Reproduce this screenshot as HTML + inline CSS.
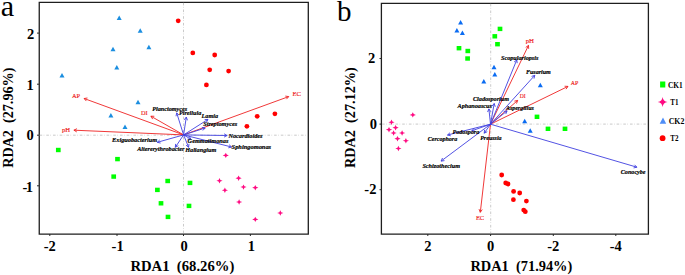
<!DOCTYPE html>
<html><head><meta charset="utf-8"><style>
html,body{margin:0;padding:0;background:#fff;width:685px;height:275px;overflow:hidden}
svg{display:block}
.b{font-family:"Liberation Serif",serif;font-weight:bold}
.bi{font-family:"Liberation Serif",serif;font-weight:bold;font-style:italic}
.r{font-family:"Liberation Serif",serif}
</style></head><body>
<svg width="685" height="275" viewBox="0 0 685 275">
<path d="M39.25,2.3 H308.3 V234.2 H39.25 Z" fill="none" stroke="#1e1e1e" stroke-width="1.3" stroke-linejoin="miter"/>
<path d="M381.4,3.4 H648.4 V234.2 H381.4 Z" fill="none" stroke="#1e1e1e" stroke-width="1.3" stroke-linejoin="miter"/>
<line x1="39.6" y1="135.2" x2="307.4" y2="135.2" stroke="#bdbdbd" stroke-width="0.8" stroke-dasharray="2.6 1.5 0.6 2"/>
<line x1="183.5" y1="2.8" x2="183.5" y2="233.4" stroke="#bdbdbd" stroke-width="0.8" stroke-dasharray="2.6 1.5 0.6 2"/>
<line x1="382.1" y1="124.1" x2="648" y2="124.1" stroke="#bdbdbd" stroke-width="0.8" stroke-dasharray="2.6 1.5 0.6 2"/>
<line x1="490.7" y1="3.8" x2="490.7" y2="233.4" stroke="#bdbdbd" stroke-width="0.8" stroke-dasharray="2.6 1.5 0.6 2"/>
<line x1="37" y1="33.1" x2="39" y2="33.1" stroke="#2a2a2a" stroke-width="1"/>
<line x1="37" y1="84.2" x2="39" y2="84.2" stroke="#2a2a2a" stroke-width="1"/>
<line x1="37" y1="135.2" x2="39" y2="135.2" stroke="#2a2a2a" stroke-width="1"/>
<line x1="37" y1="185.8" x2="39" y2="185.8" stroke="#2a2a2a" stroke-width="1"/>
<line x1="49.8" y1="234" x2="49.8" y2="236" stroke="#2a2a2a" stroke-width="1"/>
<line x1="117.0" y1="234" x2="117.0" y2="236" stroke="#2a2a2a" stroke-width="1"/>
<line x1="183.5" y1="234" x2="183.5" y2="236" stroke="#2a2a2a" stroke-width="1"/>
<line x1="250.4" y1="234" x2="250.4" y2="236" stroke="#2a2a2a" stroke-width="1"/>
<line x1="379.5" y1="58.5" x2="381.5" y2="58.5" stroke="#2a2a2a" stroke-width="1"/>
<line x1="379.5" y1="124.1" x2="381.5" y2="124.1" stroke="#2a2a2a" stroke-width="1"/>
<line x1="379.5" y1="189.7" x2="381.5" y2="189.7" stroke="#2a2a2a" stroke-width="1"/>
<line x1="427.8" y1="234" x2="427.8" y2="236" stroke="#2a2a2a" stroke-width="1"/>
<line x1="490.6" y1="234" x2="490.6" y2="236" stroke="#2a2a2a" stroke-width="1"/>
<line x1="553.3" y1="234" x2="553.3" y2="236" stroke="#2a2a2a" stroke-width="1"/>
<line x1="615.8" y1="234" x2="615.8" y2="236" stroke="#2a2a2a" stroke-width="1"/>
<text x="34.3" y="39.3" text-anchor="end" class="b" font-size="14.5">2</text>
<text x="33.8" y="89.9" text-anchor="end" class="b" font-size="14.5">1</text>
<text x="33.8" y="140" text-anchor="end" class="b" font-size="14.5">0</text>
<text x="22.6" y="191.9" textLength="10.4" lengthAdjust="spacing" class="b" font-size="14.5">-1</text>
<text x="49.8" y="250.8" text-anchor="middle" class="b" font-size="14.5">-2</text>
<text x="117.6" y="250.8" text-anchor="middle" class="b" font-size="14.5">-1</text>
<text x="184.1" y="250.8" text-anchor="middle" class="b" font-size="14.5">0</text>
<text x="251.4" y="250.8" text-anchor="middle" class="b" font-size="14.5">1</text>
<text x="375.2" y="62.7" text-anchor="end" class="b" font-size="14.5">2</text>
<text x="377.1" y="128.8" text-anchor="end" class="b" font-size="14.5">0</text>
<text x="376.4" y="193.6" text-anchor="end" class="b" font-size="14.5">-2</text>
<text x="427.8" y="250.8" text-anchor="middle" class="b" font-size="14.5">2</text>
<text x="490.6" y="250.8" text-anchor="middle" class="b" font-size="14.5">0</text>
<text x="553.3" y="250.8" text-anchor="middle" class="b" font-size="14.5">-2</text>
<text x="615.8" y="250.8" text-anchor="middle" class="b" font-size="14.5">-4</text>
<text x="130.4" y="271.4" textLength="103.9" lengthAdjust="spacingAndGlyphs" class="b" font-size="14">RDA1&#160;&#160;(68.26%)</text>
<text x="470.4" y="271.4" textLength="101.9" lengthAdjust="spacingAndGlyphs" class="b" font-size="14">RDA1&#160;&#160;(71.94%)</text>
<text transform="translate(13.4,167.8) rotate(-90)" x="0" y="0" textLength="100.2" lengthAdjust="spacingAndGlyphs" class="b" font-size="14">RDA2&#160;&#160;(27.96%)</text>
<text transform="translate(354.7,168) rotate(-90)" x="0" y="0" textLength="100.8" lengthAdjust="spacingAndGlyphs" class="b" font-size="14">RDA2&#160;&#160;(27.12%)</text>
<text x="0.8" y="16.4" class="r" font-size="30.2">a</text>
<text x="336.9" y="21.4" class="r" font-size="29">b</text>
<path d="M119.2,15.5 L121.7,20.0 L116.7,20.0Z" fill="#1b8ee0"/>
<path d="M140.2,28.3 L142.7,32.8 L137.7,32.8Z" fill="#1b8ee0"/>
<path d="M113.0,46.7 L115.5,51.2 L110.5,51.2Z" fill="#1b8ee0"/>
<path d="M148.9,44.8 L151.4,49.3 L146.4,49.3Z" fill="#1b8ee0"/>
<path d="M116.8,65.0 L119.3,69.5 L114.3,69.5Z" fill="#1b8ee0"/>
<path d="M62.0,72.9 L64.5,77.4 L59.5,77.4Z" fill="#1b8ee0"/>
<path d="M138.0,99.8 L140.5,104.3 L135.5,104.3Z" fill="#1b8ee0"/>
<path d="M110.9,113.0 L113.4,117.5 L108.4,117.5Z" fill="#1b8ee0"/>
<path d="M125.0,124.5 L127.5,129.0 L122.5,129.0Z" fill="#1b8ee0"/>
<circle cx="178.2" cy="20.8" r="2.4" fill="#ff0000"/>
<circle cx="192.8" cy="52.9" r="2.4" fill="#ff0000"/>
<circle cx="214.7" cy="55" r="2.4" fill="#ff0000"/>
<circle cx="209.7" cy="69.8" r="2.4" fill="#ff0000"/>
<circle cx="228.6" cy="71.1" r="2.4" fill="#ff0000"/>
<circle cx="206.4" cy="84.9" r="2.4" fill="#ff0000"/>
<circle cx="257.2" cy="116.3" r="2.4" fill="#ff0000"/>
<circle cx="274.9" cy="113.8" r="2.4" fill="#ff0000"/>
<circle cx="246.9" cy="126.3" r="2.4" fill="#ff0000"/>
<rect x="55.95" y="147.80" width="4.7" height="4.4" fill="#00ff00"/>
<rect x="115.15" y="156.90" width="4.7" height="4.4" fill="#00ff00"/>
<rect x="111.35" y="174.40" width="4.7" height="4.4" fill="#00ff00"/>
<rect x="165.35" y="178.80" width="4.7" height="4.4" fill="#00ff00"/>
<rect x="155.05" y="187.70" width="4.7" height="4.4" fill="#00ff00"/>
<rect x="187.65" y="180.70" width="4.7" height="4.4" fill="#00ff00"/>
<rect x="158.65" y="201.10" width="4.7" height="4.4" fill="#00ff00"/>
<rect x="186.65" y="203.70" width="4.7" height="4.4" fill="#00ff00"/>
<rect x="165.65" y="214.70" width="4.7" height="4.4" fill="#00ff00"/>
<path d="M225.8,152.70000000000002 Q226.10000000000002,155.1 228.9,155.4 Q226.10000000000002,155.70000000000002 225.8,158.1 Q225.5,155.70000000000002 222.70000000000002,155.4 Q225.5,155.1 225.8,152.70000000000002Z" fill="#ff0a82"/>
<path d="M219.5,178.10000000000002 Q219.8,180.5 222.6,180.8 Q219.8,181.10000000000002 219.5,183.5 Q219.2,181.10000000000002 216.4,180.8 Q219.2,180.5 219.5,178.10000000000002Z" fill="#ff0a82"/>
<path d="M238.6,175.5 Q238.9,177.89999999999998 241.7,178.2 Q238.9,178.5 238.6,180.89999999999998 Q238.29999999999998,178.5 235.5,178.2 Q238.29999999999998,177.89999999999998 238.6,175.5Z" fill="#ff0a82"/>
<path d="M224.9,187.60000000000002 Q225.20000000000002,190.0 228.0,190.3 Q225.20000000000002,190.60000000000002 224.9,193.0 Q224.6,190.60000000000002 221.8,190.3 Q224.6,190.0 224.9,187.60000000000002Z" fill="#ff0a82"/>
<path d="M243.5,184.4 Q243.8,186.79999999999998 246.6,187.1 Q243.8,187.4 243.5,189.79999999999998 Q243.2,187.4 240.4,187.1 Q243.2,186.79999999999998 243.5,184.4Z" fill="#ff0a82"/>
<path d="M255.3,185.0 Q255.60000000000002,187.39999999999998 258.40000000000003,187.7 Q255.60000000000002,188.0 255.3,190.39999999999998 Q255.0,188.0 252.20000000000002,187.7 Q255.0,187.39999999999998 255.3,185.0Z" fill="#ff0a82"/>
<path d="M239.1,199.3 Q239.4,201.7 242.2,202 Q239.4,202.3 239.1,204.7 Q238.79999999999998,202.3 236.0,202 Q238.79999999999998,201.7 239.1,199.3Z" fill="#ff0a82"/>
<path d="M280.3,210.3 Q280.6,212.7 283.40000000000003,213 Q280.6,213.3 280.3,215.7 Q280.0,213.3 277.2,213 Q280.0,212.7 280.3,210.3Z" fill="#ff0a82"/>
<path d="M255.3,216.70000000000002 Q255.60000000000002,219.1 258.40000000000003,219.4 Q255.60000000000002,219.70000000000002 255.3,222.1 Q255.0,219.70000000000002 252.20000000000002,219.4 Q255.0,219.1 255.3,216.70000000000002Z" fill="#ff0a82"/>
<line x1="183.6" y1="134.9" x2="84.1" y2="98.5" stroke="#ee2222" stroke-width="0.9"/>
<path d="M87.46,97.99 L84.1,98.5 L86.34,101.06" stroke="#ee2222" stroke-width="0.9" fill="none"/>
<line x1="183.6" y1="134.9" x2="73.9" y2="130.2" stroke="#ee2222" stroke-width="0.9"/>
<path d="M76.95,128.70 L73.9,130.2 L76.81,131.96" stroke="#ee2222" stroke-width="0.9" fill="none"/>
<line x1="183.6" y1="134.9" x2="150.9" y2="116.2" stroke="#ee2222" stroke-width="0.9"/>
<path d="M154.30,116.27 L150.9,116.2 L152.68,119.10" stroke="#ee2222" stroke-width="0.9" fill="none"/>
<line x1="183.6" y1="134.9" x2="288.7" y2="96.6" stroke="#ee2222" stroke-width="0.9"/>
<path d="M286.45,99.15 L288.7,96.6 L285.34,96.09" stroke="#ee2222" stroke-width="0.9" fill="none"/>
<line x1="183.6" y1="134.9" x2="176.7" y2="112.9" stroke="#4040e0" stroke-width="0.9"/>
<path d="M179.15,115.26 L176.7,112.9 L176.04,116.23" stroke="#4040e0" stroke-width="0.9" fill="none"/>
<line x1="183.6" y1="134.9" x2="186.3" y2="117.1" stroke="#4040e0" stroke-width="0.9"/>
<path d="M187.46,120.29 L186.3,117.1 L184.24,119.81" stroke="#4040e0" stroke-width="0.9" fill="none"/>
<line x1="183.6" y1="134.9" x2="208.0" y2="119.4" stroke="#4040e0" stroke-width="0.9"/>
<path d="M206.36,122.38 L208.0,119.4 L204.61,119.62" stroke="#4040e0" stroke-width="0.9" fill="none"/>
<line x1="183.6" y1="134.9" x2="205.2" y2="128.0" stroke="#4040e0" stroke-width="0.9"/>
<path d="M202.85,130.46 L205.2,128.0 L201.86,127.36" stroke="#4040e0" stroke-width="0.9" fill="none"/>
<line x1="183.6" y1="134.9" x2="227.1" y2="135.5" stroke="#4040e0" stroke-width="0.9"/>
<path d="M224.09,137.09 L227.1,135.5 L224.14,133.83" stroke="#4040e0" stroke-width="0.9" fill="none"/>
<line x1="183.6" y1="134.9" x2="231.6" y2="147.0" stroke="#4040e0" stroke-width="0.9"/>
<path d="M228.31,147.85 L231.6,147.0 L229.11,144.69" stroke="#4040e0" stroke-width="0.9" fill="none"/>
<line x1="183.6" y1="134.9" x2="190.9" y2="139.2" stroke="#4040e0" stroke-width="0.9"/>
<path d="M187.50,139.09 L190.9,139.2 L189.16,136.28" stroke="#4040e0" stroke-width="0.9" fill="none"/>
<line x1="183.6" y1="134.9" x2="188.6" y2="147.3" stroke="#4040e0" stroke-width="0.9"/>
<path d="M185.97,145.14 L188.6,147.3 L189.00,143.92" stroke="#4040e0" stroke-width="0.9" fill="none"/>
<line x1="183.6" y1="134.9" x2="175.3" y2="147.3" stroke="#4040e0" stroke-width="0.9"/>
<path d="M175.61,143.91 L175.3,147.3 L178.31,145.73" stroke="#4040e0" stroke-width="0.9" fill="none"/>
<line x1="183.6" y1="134.9" x2="157.3" y2="142.3" stroke="#4040e0" stroke-width="0.9"/>
<path d="M159.73,139.92 L157.3,142.3 L160.61,143.06" stroke="#4040e0" stroke-width="0.9" fill="none"/>
<text x="152.3" y="110.6" textLength="34.8" lengthAdjust="spacingAndGlyphs" class="bi" font-size="6.6" fill="#000" stroke="#000" stroke-width="0.18">Planctomyces</text>
<text x="179.0" y="115.4" textLength="22.2" lengthAdjust="spacingAndGlyphs" class="bi" font-size="6.6" fill="#000" stroke="#000" stroke-width="0.18">Pirellula</text>
<text x="201.6" y="118.4" textLength="16.4" lengthAdjust="spacingAndGlyphs" class="bi" font-size="6.6" fill="#000" stroke="#000" stroke-width="0.18">Lamia</text>
<text x="203.2" y="126.4" textLength="34.0" lengthAdjust="spacingAndGlyphs" class="bi" font-size="6.6" fill="#000" stroke="#000" stroke-width="0.18">Streptomyces</text>
<text x="228.4" y="137.9" textLength="34.1" lengthAdjust="spacingAndGlyphs" class="bi" font-size="6.6" fill="#000" stroke="#000" stroke-width="0.18">Nocardioides</text>
<text x="231.6" y="149.0" textLength="39.5" lengthAdjust="spacingAndGlyphs" class="bi" font-size="6.6" fill="#000" stroke="#000" stroke-width="0.18">Sphingomonas</text>
<text x="187.6" y="143.1" textLength="40.8" lengthAdjust="spacingAndGlyphs" class="bi" font-size="6.6" fill="#000" stroke="#000" stroke-width="0.18">Gemmatimonas</text>
<text x="185.2" y="152.3" textLength="31.1" lengthAdjust="spacingAndGlyphs" class="bi" font-size="6.6" fill="#000" stroke="#000" stroke-width="0.18">Haliangium</text>
<text x="137.2" y="151.4" textLength="47.2" lengthAdjust="spacingAndGlyphs" class="bi" font-size="6.6" fill="#000" stroke="#000" stroke-width="0.18">Altererythrobacter</text>
<text x="112.1" y="141.8" textLength="45.1" lengthAdjust="spacingAndGlyphs" class="bi" font-size="6.6" fill="#000" stroke="#000" stroke-width="0.18">Exiguobacterium</text>
<text x="71.9" y="97.6" textLength="8.2" lengthAdjust="spacingAndGlyphs" class="r" font-size="7.0" fill="#ee2222" stroke="#ee2222" stroke-width="0.18">AP</text>
<text x="62.0" y="131.9" textLength="8.1" lengthAdjust="spacingAndGlyphs" class="r" font-size="7.0" fill="#ee2222" stroke="#ee2222" stroke-width="0.18">pH</text>
<text x="140.9" y="114.8" textLength="6.6" lengthAdjust="spacingAndGlyphs" class="r" font-size="7.0" fill="#ee2222" stroke="#ee2222" stroke-width="0.18">DI</text>
<text x="292.5" y="95.9" textLength="8.5" lengthAdjust="spacingAndGlyphs" class="r" font-size="7.0" fill="#ee2222" stroke="#ee2222" stroke-width="0.18">EC</text>
<path d="M460.6,20.1 L463.1,24.6 L458.1,24.6Z" fill="#0b6cf2"/>
<path d="M456.9,27.9 L459.4,32.4 L454.4,32.4Z" fill="#0b6cf2"/>
<path d="M462.4,30.6 L464.9,35.1 L459.9,35.1Z" fill="#0b6cf2"/>
<path d="M494.0,64.8 L496.5,69.3 L491.5,69.3Z" fill="#0b6cf2"/>
<path d="M494.8,72.0 L497.3,76.5 L492.3,76.5Z" fill="#0b6cf2"/>
<path d="M483.8,78.9 L486.3,83.4 L481.3,83.4Z" fill="#0b6cf2"/>
<path d="M540.3,82.7 L542.8,87.2 L537.8,87.2Z" fill="#0b6cf2"/>
<path d="M524.7,118.8 L527.2,123.3 L522.2,123.3Z" fill="#0b6cf2"/>
<path d="M530.2,128.2 L532.7,132.7 L527.7,132.7Z" fill="#0b6cf2"/>
<rect x="456.65" y="46.00" width="4.7" height="4.4" fill="#00ff00"/>
<rect x="465.45" y="48.80" width="4.7" height="4.4" fill="#00ff00"/>
<rect x="465.25" y="56.30" width="4.7" height="4.4" fill="#00ff00"/>
<rect x="497.65" y="26.70" width="4.7" height="4.4" fill="#00ff00"/>
<rect x="492.45" y="34.10" width="4.7" height="4.4" fill="#00ff00"/>
<rect x="495.15" y="42.00" width="4.7" height="4.4" fill="#00ff00"/>
<rect x="534.65" y="114.60" width="4.7" height="4.4" fill="#00ff00"/>
<rect x="545.65" y="126.60" width="4.7" height="4.4" fill="#00ff00"/>
<rect x="562.65" y="126.60" width="4.7" height="4.4" fill="#00ff00"/>
<circle cx="501.7" cy="175" r="2.4" fill="#ff0000"/>
<circle cx="505.7" cy="183" r="2.4" fill="#ff0000"/>
<circle cx="508" cy="184" r="2.4" fill="#ff0000"/>
<circle cx="513.6" cy="191.4" r="2.4" fill="#ff0000"/>
<circle cx="519.7" cy="193" r="2.4" fill="#ff0000"/>
<circle cx="513.4" cy="199.7" r="2.4" fill="#ff0000"/>
<circle cx="526.4" cy="201.1" r="2.4" fill="#ff0000"/>
<circle cx="523.7" cy="210.1" r="2.4" fill="#ff0000"/>
<circle cx="525.3" cy="211.7" r="2.4" fill="#ff0000"/>
<path d="M412.8,112.2 Q413.1,114.60000000000001 415.90000000000003,114.9 Q413.1,115.2 412.8,117.60000000000001 Q412.5,115.2 409.7,114.9 Q412.5,114.60000000000001 412.8,112.2Z" fill="#ff0a82"/>
<path d="M391.5,119.6 Q391.8,122.0 394.6,122.3 Q391.8,122.6 391.5,125.0 Q391.2,122.6 388.4,122.3 Q391.2,122.0 391.5,119.6Z" fill="#ff0a82"/>
<path d="M395.6,125.0 Q395.90000000000003,127.4 398.70000000000005,127.7 Q395.90000000000003,128.0 395.6,130.4 Q395.3,128.0 392.5,127.7 Q395.3,127.4 395.6,125.0Z" fill="#ff0a82"/>
<path d="M389,126.99999999999999 Q389.3,129.39999999999998 392.1,129.7 Q389.3,130.0 389,132.39999999999998 Q388.7,130.0 385.9,129.7 Q388.7,129.39999999999998 389,126.99999999999999Z" fill="#ff0a82"/>
<path d="M393.6,130.3 Q393.90000000000003,132.7 396.70000000000005,133 Q393.90000000000003,133.3 393.6,135.7 Q393.3,133.3 390.5,133 Q393.3,132.7 393.6,130.3Z" fill="#ff0a82"/>
<path d="M402.1,130.3 Q402.40000000000003,132.7 405.20000000000005,133 Q402.40000000000003,133.3 402.1,135.7 Q401.8,133.3 399.0,133 Q401.8,132.7 402.1,130.3Z" fill="#ff0a82"/>
<path d="M397.5,136.0 Q397.8,138.39999999999998 400.6,138.7 Q397.8,139.0 397.5,141.39999999999998 Q397.2,139.0 394.4,138.7 Q397.2,138.39999999999998 397.5,136.0Z" fill="#ff0a82"/>
<path d="M405.9,138.10000000000002 Q406.2,140.5 409.0,140.8 Q406.2,141.10000000000002 405.9,143.5 Q405.59999999999997,141.10000000000002 402.79999999999995,140.8 Q405.59999999999997,140.5 405.9,138.10000000000002Z" fill="#ff0a82"/>
<path d="M398.4,145.8 Q398.7,148.2 401.5,148.5 Q398.7,148.8 398.4,151.2 Q398.09999999999997,148.8 395.29999999999995,148.5 Q398.09999999999997,148.2 398.4,145.8Z" fill="#ff0a82"/>
<line x1="490.5" y1="124.2" x2="528.5" y2="45.4" stroke="#ee2222" stroke-width="0.9"/>
<path d="M528.67,48.80 L528.5,45.4 L525.74,47.38" stroke="#ee2222" stroke-width="0.9" fill="none"/>
<line x1="490.5" y1="124.2" x2="517.7" y2="100.4" stroke="#ee2222" stroke-width="0.9"/>
<path d="M516.53,103.59 L517.7,100.4 L514.38,101.14" stroke="#ee2222" stroke-width="0.9" fill="none"/>
<line x1="490.5" y1="124.2" x2="568.0" y2="86.4" stroke="#ee2222" stroke-width="0.9"/>
<path d="M566.03,89.17 L568.0,86.4 L564.60,86.24" stroke="#ee2222" stroke-width="0.9" fill="none"/>
<line x1="490.5" y1="124.2" x2="480.3" y2="212.3" stroke="#ee2222" stroke-width="0.9"/>
<path d="M479.02,209.15 L480.3,212.3 L482.26,209.52" stroke="#ee2222" stroke-width="0.9" fill="none"/>
<line x1="490.5" y1="124.2" x2="516.8" y2="59.8" stroke="#4040e0" stroke-width="0.9"/>
<path d="M517.18,63.18 L516.8,59.8 L514.16,61.95" stroke="#4040e0" stroke-width="0.9" fill="none"/>
<line x1="490.5" y1="124.2" x2="534.8" y2="75.3" stroke="#4040e0" stroke-width="0.9"/>
<path d="M534.00,78.61 L534.8,75.3 L531.59,76.42" stroke="#4040e0" stroke-width="0.9" fill="none"/>
<line x1="490.5" y1="124.2" x2="494.2" y2="103.5" stroke="#4040e0" stroke-width="0.9"/>
<path d="M495.28,106.72 L494.2,103.5 L492.07,106.15" stroke="#4040e0" stroke-width="0.9" fill="none"/>
<line x1="490.5" y1="124.2" x2="488.9" y2="108.9" stroke="#4040e0" stroke-width="0.9"/>
<path d="M490.83,111.70 L488.9,108.9 L487.59,112.04" stroke="#4040e0" stroke-width="0.9" fill="none"/>
<line x1="490.5" y1="124.2" x2="507.1" y2="110.9" stroke="#4040e0" stroke-width="0.9"/>
<path d="M505.79,114.04 L507.1,110.9 L503.75,111.49" stroke="#4040e0" stroke-width="0.9" fill="none"/>
<line x1="490.5" y1="124.2" x2="471.8" y2="130.8" stroke="#4040e0" stroke-width="0.9"/>
<path d="M474.07,128.27 L471.8,130.8 L475.16,131.34" stroke="#4040e0" stroke-width="0.9" fill="none"/>
<line x1="490.5" y1="124.2" x2="447.5" y2="135.0" stroke="#4040e0" stroke-width="0.9"/>
<path d="M450.00,132.69 L447.5,135.0 L450.79,135.85" stroke="#4040e0" stroke-width="0.9" fill="none"/>
<line x1="490.5" y1="124.2" x2="484.2" y2="133.2" stroke="#4040e0" stroke-width="0.9"/>
<path d="M484.58,129.82 L484.2,133.2 L487.25,131.69" stroke="#4040e0" stroke-width="0.9" fill="none"/>
<line x1="490.5" y1="124.2" x2="441.1" y2="161.1" stroke="#4040e0" stroke-width="0.9"/>
<path d="M442.52,158.01 L441.1,161.1 L444.47,160.62" stroke="#4040e0" stroke-width="0.9" fill="none"/>
<line x1="490.5" y1="124.2" x2="636.9" y2="167.2" stroke="#4040e0" stroke-width="0.9"/>
<path d="M633.58,167.92 L636.9,167.2 L634.50,164.80" stroke="#4040e0" stroke-width="0.9" fill="none"/>
<text x="501.0" y="59.6" textLength="37.4" lengthAdjust="spacingAndGlyphs" class="bi" font-size="6.6" fill="#000" stroke="#000" stroke-width="0.18">Scopulariopsis</text>
<text x="525.9" y="73.8" textLength="24.9" lengthAdjust="spacingAndGlyphs" class="bi" font-size="6.6" fill="#000" stroke="#000" stroke-width="0.18">Fusarium</text>
<text x="473.0" y="100.9" textLength="36.0" lengthAdjust="spacingAndGlyphs" class="bi" font-size="6.6" fill="#000" stroke="#000" stroke-width="0.18">Cladosporium</text>
<text x="457.5" y="108.1" textLength="34.5" lengthAdjust="spacingAndGlyphs" class="bi" font-size="6.6" fill="#000" stroke="#000" stroke-width="0.18">Aphanoascus</text>
<text x="505.9" y="110.0" textLength="27.9" lengthAdjust="spacingAndGlyphs" class="bi" font-size="6.6" fill="#000" stroke="#000" stroke-width="0.18">Aspergillus</text>
<text x="452.5" y="134.4" textLength="26.8" lengthAdjust="spacingAndGlyphs" class="bi" font-size="6.6" fill="#000" stroke="#000" stroke-width="0.18">Podospora</text>
<text x="427.7" y="140.6" textLength="29.5" lengthAdjust="spacingAndGlyphs" class="bi" font-size="6.6" fill="#000" stroke="#000" stroke-width="0.18">Cercophora</text>
<text x="480.2" y="139.7" textLength="21.4" lengthAdjust="spacingAndGlyphs" class="bi" font-size="6.6" fill="#000" stroke="#000" stroke-width="0.18">Preussia</text>
<text x="422.4" y="167.5" textLength="37.6" lengthAdjust="spacingAndGlyphs" class="bi" font-size="6.6" fill="#000" stroke="#000" stroke-width="0.18">Schizothecium</text>
<text x="620.8" y="174.2" textLength="24.8" lengthAdjust="spacingAndGlyphs" class="bi" font-size="6.6" fill="#000" stroke="#000" stroke-width="0.18">Conocybe</text>
<text x="525.7" y="42.5" textLength="8.3" lengthAdjust="spacingAndGlyphs" class="r" font-size="7.1" fill="#ee2222" stroke="#ee2222" stroke-width="0.18">pH</text>
<text x="519.8" y="98.2" textLength="5.9" lengthAdjust="spacingAndGlyphs" class="r" font-size="7.1" fill="#ee2222" stroke="#ee2222" stroke-width="0.18">DI</text>
<text x="570.8" y="84.9" textLength="7.6" lengthAdjust="spacingAndGlyphs" class="r" font-size="7.1" fill="#ee2222" stroke="#ee2222" stroke-width="0.18">AP</text>
<text x="475.9" y="219.5" textLength="8.2" lengthAdjust="spacingAndGlyphs" class="r" font-size="7.1" fill="#ee2222" stroke="#ee2222" stroke-width="0.18">EC</text>
<rect x="660.1" y="81.5" width="5.2" height="6" fill="#00ff00"/>
<path d="M662.6,97.0 Q663.2,101.4 667.5,102.0 Q663.2,102.6 662.6,107.0 Q662.0,102.6 657.7,102.0 Q662.0,101.4 662.6,97.0Z" fill="#ff0a82"/>
<path d="M663,117.6 L666.2,123.7 L659.7,123.7Z" fill="#4f8ef7"/>
<circle cx="662.6" cy="138.2" r="2.9" fill="#ff0000"/>
<text x="668.1" y="87.7" textLength="14.6" lengthAdjust="spacingAndGlyphs" class="b" font-size="8">CK1</text>
<text x="670.3" y="104.5" textLength="8.2" lengthAdjust="spacingAndGlyphs" class="b" font-size="8">T1</text>
<text x="668.7" y="124" textLength="15.6" lengthAdjust="spacingAndGlyphs" class="b" font-size="8">CK2</text>
<text x="670.3" y="141.2" textLength="8.2" lengthAdjust="spacingAndGlyphs" class="b" font-size="8">T2</text>
</svg>
</body></html>
